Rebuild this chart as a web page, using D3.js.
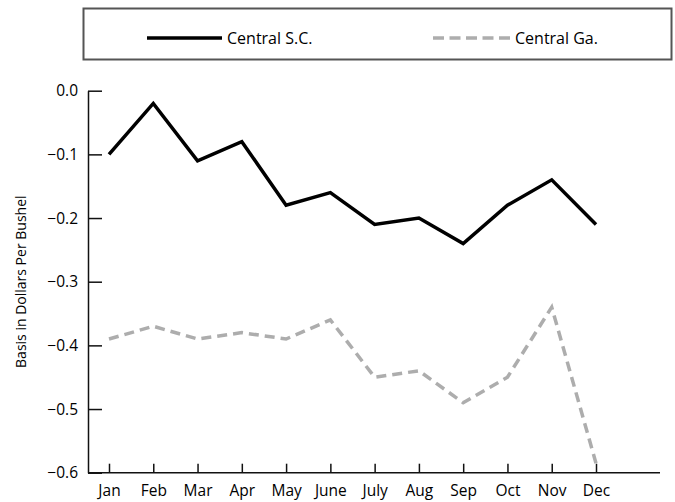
<!DOCTYPE html>
<html>
<head>
<meta charset="utf-8">
<script src="https://cdn.jsdelivr.net/npm/d3@7"></script>
<style>
  body { margin: 0; background: #fff; }
  svg { display: block; font-family: "Open Sans", sans-serif; }
</style>
</head>
<body>
<script>
// Données
const months = ["Jan", "Feb", "Mar", "Apr", "May", "June", "July", "Aug", "Sep", "Oct", "Nov", "Dec"];
const centralSC = [-0.10, -0.02, -0.11, -0.08, -0.18, -0.16, -0.21, -0.20, -0.24, -0.18, -0.14, -0.21];
const centralGa = [-0.39, -0.37, -0.39, -0.38, -0.39, -0.36, -0.45, -0.44, -0.49, -0.45, -0.34, -0.585];
const yTicks = [0, -0.1, -0.2, -0.3, -0.4, -0.5, -0.6];

const width = 675, height = 502;
const axisX = 88, axisTop = 90.7, axisBottom = 472.7, axisRight = 660;

const svg = d3.select("body")
    .append("svg")
    .attr("width", width)
    .attr("height", height);

// Echelles
const x = d3.scalePoint()
    .domain(months)
    .range([109, 596]);

const y = d3.scaleLinear()
    .domain([-0.6, 0])
    .range([axisBottom, axisTop]);

// Axe Y, graduations vers l'intérieur
const yAxis = svg.append("g")
    .attr("transform", `translate(${axisX},0)`)
    .call(d3.axisLeft(y)
        .tickValues(yTicks)
        .tickFormat(d3.format(".1f"))
        .tickSizeInner(-14)
        .tickSizeOuter(0)
        .tickPadding(10));
yAxis.selectAll("path, line").attr("stroke", "#111").attr("stroke-width", 1.5);
yAxis.selectAll("text")
    .attr("fill", "#000")
    .style("font-size", "15.5px")
    .style("font-family", "Open Sans");

// Axe X
const xAxis = svg.append("g")
    .attr("transform", `translate(0,${axisBottom})`)
    .call(d3.axisBottom(x)
        .tickSizeInner(-9)
        .tickSizeOuter(0)
        .tickPadding(12));
xAxis.select(".domain").remove();
xAxis.selectAll("line").attr("stroke", "#111").attr("stroke-width", 1.5);
xAxis.selectAll("text")
    .attr("fill", "#000")
    .style("font-size", "15.5px")
    .style("font-family", "Open Sans");

svg.append("line")
    .attr("x1", axisX)
    .attr("x2", axisRight)
    .attr("y1", axisBottom)
    .attr("y2", axisBottom)
    .attr("stroke", "#111")
    .attr("stroke-width", 1.5);

// Titre de l'axe Y
svg.append("text")
    .attr("transform", `translate(26,${(axisTop + axisBottom) / 2}) rotate(-90)`)
    .attr("text-anchor", "middle")
    .style("font-size", "14px")
    .attr("fill", "#000")
    .text("Basis in Dollars Per Bushel");

// Lignes
const line = d3.line()
    .x((d, i) => x(months[i]))
    .y(d => y(d));

svg.append("path")
    .datum(centralGa)
    .attr("d", line)
    .attr("fill", "none")
    .attr("stroke", "#adadad")
    .attr("stroke-width", 3.5)
    .attr("stroke-dasharray", "10,6");

svg.append("path")
    .datum(centralSC)
    .attr("d", line)
    .attr("fill", "none")
    .attr("stroke", "#000")
    .attr("stroke-width", 3.5)
    .attr("stroke-linejoin", "miter");

// Légende
svg.append("rect")
    .attr("x", 83.5)
    .attr("y", 8.5)
    .attr("width", 588)
    .attr("height", 51)
    .attr("fill", "none")
    .attr("stroke", "#555")
    .attr("stroke-width", 2);

const legend = [
    { name: "Central S.C.", x1: 147, x2: 222, color: "#000", dash: null },
    { name: "Central Ga.", x1: 433, x2: 510, color: "#adadad", dash: "11,5.5" }
];

legend.forEach(l => {
    svg.append("line")
        .attr("x1", l.x1).attr("x2", l.x2)
        .attr("y1", 38).attr("y2", 38)
        .attr("stroke", l.color)
        .attr("stroke-width", 3.5)
        .attr("stroke-dasharray", l.dash);
    svg.append("text")
        .attr("x", l.x2 + 5)
        .attr("y", 43.5)
        .style("font-size", "16px")
        .attr("fill", "#000")
        .text(l.name);
});
</script>
</body>
</html>
